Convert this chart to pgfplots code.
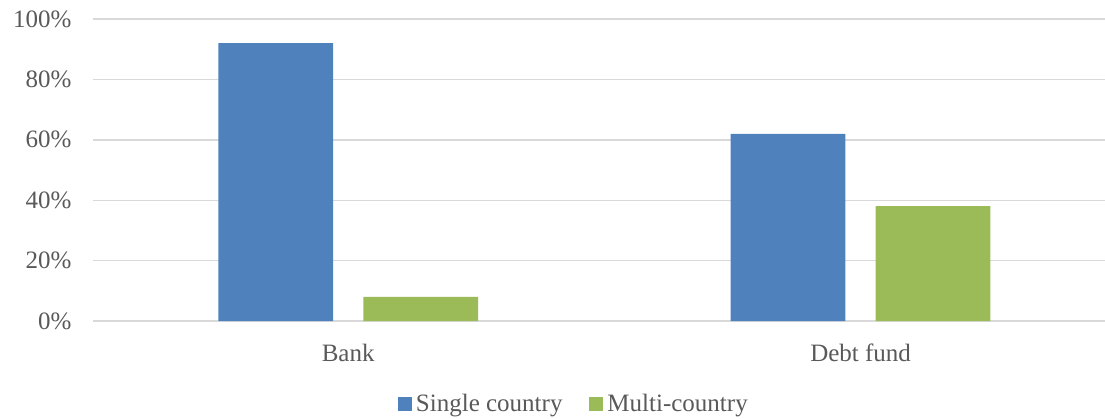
\documentclass[border=0pt]{standalone}
\usepackage{pgfplots}
\pgfplotsset{compat=1.18}
\usepackage{fontspec}
\setmainfont{Liberation Serif}
\definecolor{barblue}{HTML}{4F81BD}
\definecolor{bargreen}{HTML}{9BBB59}
\definecolor{gridgray}{HTML}{D9D9D9}
\definecolor{txt}{HTML}{595959}
\pgfplotsset{sqlegend/.style={legend image code/.code={\fill[##1] (0pt,-7pt) rectangle (14pt,7pt); \path (16pt,0pt);}}}
\begin{document}
\begin{tikzpicture}[x=1pt,y=1pt]
\path[use as bounding box] (0,0) rectangle (1105,418);
\begin{axis}[
  at={(93.3pt,97pt)}, anchor=south west,
  width=1011.7pt, height=302pt, scale only axis,
  ybar=30.3pt, bar width=114.7pt,
  xmin=-0.4975, xmax=1.477,
  ymin=0, ymax=100,
  xtick={0,1}, xticklabels={Bank,Debt fund},
  ytick={0,20,40,60,80,100},
  yticklabel={\pgfmathprintnumber{\tick}\%},
  /pgf/number format/assume math mode=true,
  axis line style={draw=none},
  major tick length=0pt,
  ymajorgrids, grid style={gridgray, line width=1.4pt},
  tick label style={font=\fontsize{25}{29}\selectfont, text=txt},
  yticklabel style={inner sep=0pt, anchor=east, xshift=-21.6pt},
  xticklabel style={inner sep=0pt, anchor=base, yshift=-40pt},
  legend columns=2,
  legend style={draw=none, fill=none, at={(0.475,-0.2748)}, anchor=center,
    font=\fontsize{25}{29}\selectfont, text=txt,
    nodes={inner sep=2pt},
    /tikz/every even column/.append style={column sep=25pt}},
]
\addplot[fill=barblue, draw=none, sqlegend] coordinates {(0,92) (1,62)};
\addplot[fill=bargreen, draw=none, sqlegend] coordinates {(0,8) (1,38)};
\legend{Single country, Multi-country}
\end{axis}
\end{tikzpicture}
\end{document}
